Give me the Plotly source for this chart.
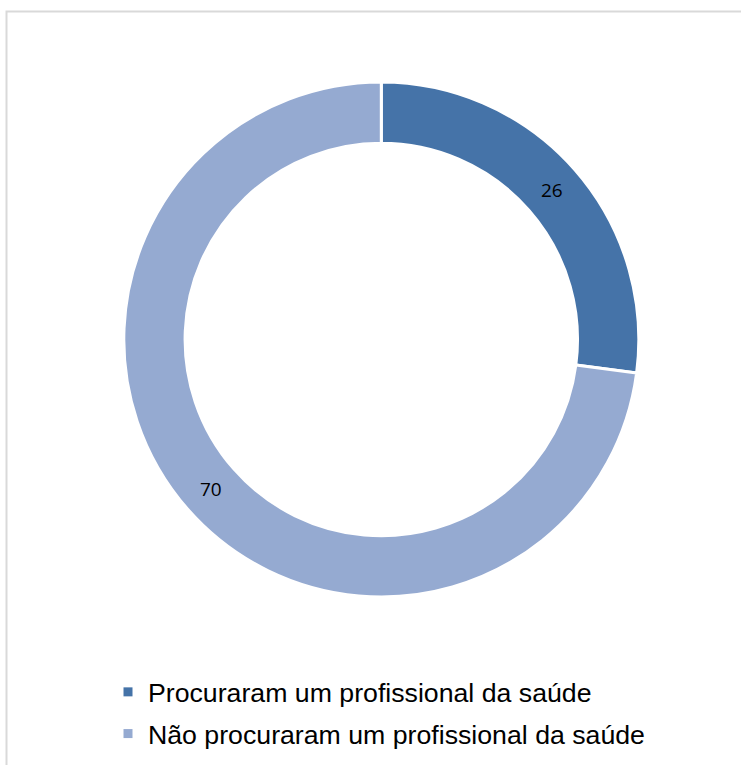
import plotly.graph_objects as go

# Survey responses
categories = ["Procuraram um profissional da saúde",
              "Não procuraram um profissional da saúde"]
values = [26, 70]
colors = ["#4573A8", "#95AAD1"]

W, H = 741, 765
CX, CY, R = 381.3, 339.5, 257.5  # donut centre / radius in px

fig = go.Figure()

fig.add_trace(go.Pie(
    labels=categories,
    values=values,
    hole=0.762,
    sort=False,
    direction="clockwise",
    rotation=0,
    marker=dict(colors=colors, line=dict(color="white", width=3)),
    textinfo="value",
    textposition="inside",
    insidetextorientation="horizontal",
    textfont=dict(family="Open Sans", size=19, color="black"),
    showlegend=False,
    hoverinfo="label+value",
    domain=dict(x=[(CX - R) / W, (CX + R) / W],
                y=[(H - CY - R) / H, (H - CY + R) / H]),
))

# Legend entries with small square swatches
for name, col in zip(categories, colors):
    fig.add_trace(go.Scatter(
        x=[None], y=[None], mode="markers", name=name,
        legendgroup=name,
        marker=dict(symbol="square", size=9, color=col),
        hoverinfo="skip",
    ))

fig.update_layout(
    width=W, height=H,
    margin=dict(l=0, r=0, t=0, b=0),
    paper_bgcolor="white",
    plot_bgcolor="white",
    xaxis=dict(visible=False),
    yaxis=dict(visible=False),
    legend=dict(
        x=108 / W, y=1 - 668 / H, xanchor="left", yanchor="top",
        font=dict(family="Liberation Sans", size=26.7, color="black"),
        itemsizing="trace",
        tracegroupgap=4,
        bgcolor="rgba(0,0,0,0)",
    ),
    shapes=[dict(
        type="rect", xref="paper", yref="paper",
        x0=6.5 / W, x1=1.05, y0=-0.05, y1=1 - 11.5 / H,
        line=dict(color="#D9D9D9", width=2),
        layer="below",
    )],
)

fig.write_html("out.html")
